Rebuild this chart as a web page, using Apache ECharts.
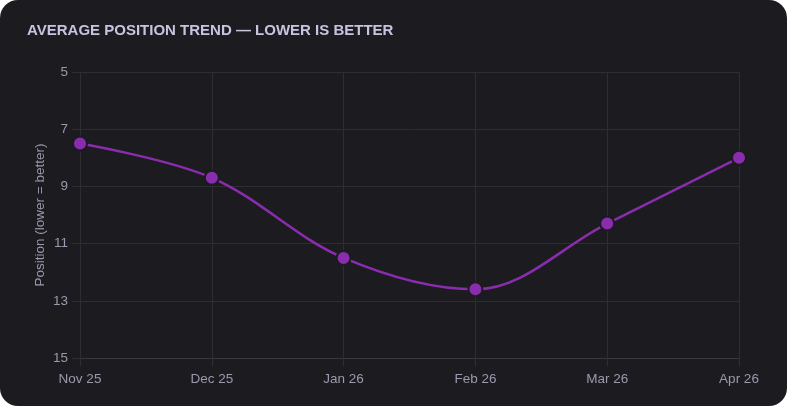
<!DOCTYPE html>
<html>
<head>
<meta charset="utf-8">
<script src="https://cdn.jsdelivr.net/npm/echarts@6/dist/echarts.min.js"></script>
<style>
  html, body { margin: 0; padding: 0; background: #ffffff; }
  #main {
    width: 787px; height: 406px;
    background: #1c1b20;
    border-radius: 18px;
    overflow: hidden;
  }
</style>
</head>
<body>
<div id="main"></div>
<script>
var months = ['Nov 25', 'Dec 25', 'Jan 26', 'Feb 26', 'Mar 26', 'Apr 26'];
var avgPosition = [7.5, 8.7, 11.5, 12.6, 10.3, 8.0];

var gridColor = '#2e2d34';
var labelColor = '#9c98ad';
var font = 'Liberation Sans, Arial, sans-serif';

var chart = echarts.init(document.getElementById('main'), null, { renderer: 'canvas' });
chart.setOption({
  backgroundColor: 'transparent',
  animation: false,
  title: {
    text: 'AVERAGE POSITION TREND — LOWER IS BETTER',
    left: 22,
    top: 18,
    textStyle: {
      color: '#c9c3e0',
      fontFamily: font,
      fontSize: 15,
      fontWeight: 'bold'
    }
  },
  grid: { left: 80, right: 48, top: 72, bottom: 48 },
  xAxis: {
    type: 'category',
    data: months,
    boundaryGap: false,
    axisLine: { show: true, lineStyle: { color: '#3a3940' } },
    axisTick: { show: true, length: 8, lineStyle: { color: gridColor } },
    axisLabel: { color: labelColor, fontSize: 13.5, fontFamily: font, margin: 14 },
    splitLine: { show: true, lineStyle: { color: gridColor } }
  },
  yAxis: {
    type: 'value',
    inverse: true,
    min: 5,
    max: 15,
    interval: 2,
    name: 'Position (lower = better)',
    nameLocation: 'middle',
    nameGap: 33,
    nameMoveOverlap: false,
    nameTextStyle: { color: labelColor, fontSize: 13.5, fontFamily: font },
    axisLine: { show: false },
    axisTick: { show: true, length: 8, lineStyle: { color: gridColor } },
    axisLabel: { color: labelColor, fontSize: 13.5, fontFamily: font, margin: 12 },
    splitLine: { show: true, lineStyle: { color: gridColor } }
  },
  series: [{
    type: 'line',
    data: avgPosition,
    smooth: 0.35,
    symbol: 'circle',
    symbolSize: 14,
    lineStyle: { color: '#8a2cae', width: 2.5 },
    itemStyle: { color: '#8a2cae', borderColor: '#1c1b20', borderWidth: 2 }
  }]
});
</script>
</body>
</html>
